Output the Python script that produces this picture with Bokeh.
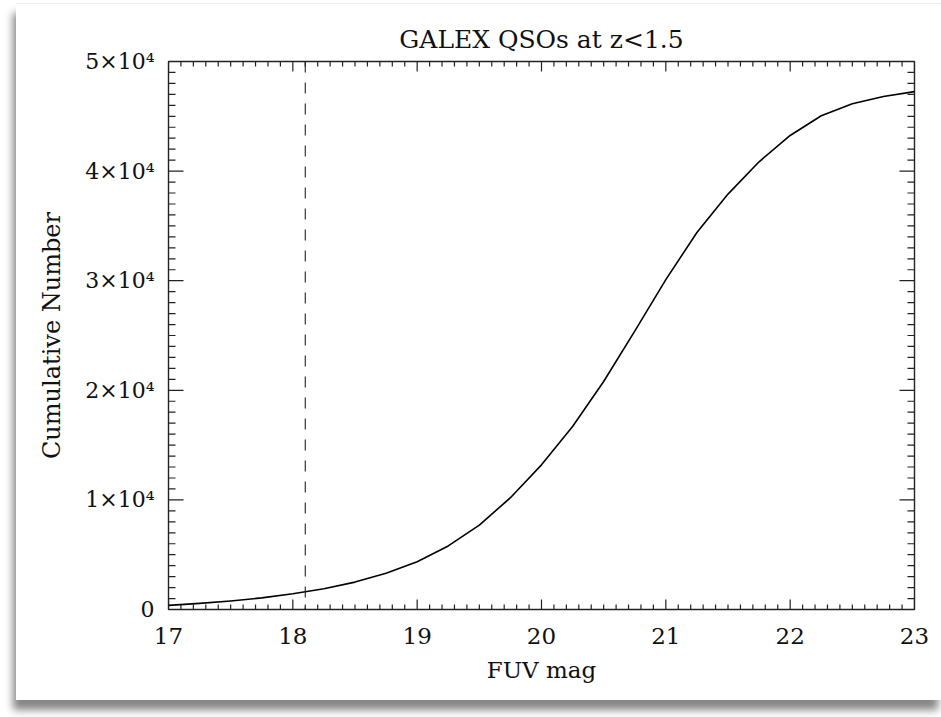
import numpy as np
from bokeh.plotting import figure
from bokeh.models import (LinearAxis, FixedTicker, Range1d, Span, ColumnDataSource)
from bokeh.embed import file_html
from bokeh.resources import INLINE

# Cumulative number of GALEX QSOs (z < 1.5) brighter than a given FUV magnitude
fuv_mag = [17.0, 17.25, 17.5, 17.75, 18.0, 18.25, 18.5, 18.75, 19.0, 19.25,
           19.5, 19.75, 20.0, 20.25, 20.5, 20.75, 21.0, 21.25, 21.5, 21.75,
           22.0, 22.25, 22.5, 22.75, 23.0]
cum_number = [380, 560, 780, 1060, 1430, 1900, 2500, 3300, 4350, 5800,
              7700, 10200, 13200, 16700, 20800, 25400, 30100, 34400, 37900, 40850,
              43250, 45050, 46150, 46800, 47250]

# FUV magnitude limit marked by the dashed line
mag_limit = 18.1

x_major = [17, 18, 19, 20, 21, 22, 23]
y_major = [0, 10000, 20000, 30000, 40000, 50000]
y_tick_labels = ["0", "1×10⁴", "2×10⁴", "3×10⁴", "4×10⁴", "5×10⁴"]

x_minor = [round(v, 1) for v in np.arange(17.0, 23.0001, 0.1)]
x_minor = [v for v in x_minor if v not in x_major]
y_minor = [v for v in range(0, 50001, 1000) if v not in y_major]

X0, X1 = 17, 23
Y0, Y1 = 0, 50000

FONT = "DejaVu Serif"
INK = "#111111"
AXIS_INK = "#222222"

p = figure(width=925, height=697, output_backend="svg", toolbar_location=None,
           x_range=Range1d(X0, X1), y_range=Range1d(Y0, Y1),
           x_axis_type=None, y_axis_type=None,
           min_border_left=152, min_border_right=27,
           min_border_top=57, min_border_bottom=92,
           background_fill_color="white", border_fill_color="white")
p.margin = (3, 0, 0, 16)
# photo-style card with a soft drop shadow
p.styles = {"box-shadow": "-3px 10px 8px rgba(0, 0, 0, 0.48)",
            "border-top": "1px solid #eeeeee"}
p.outline_line_color = AXIS_INK
p.outline_line_width = 1.4
p.xgrid.visible = False
p.ygrid.visible = False

p.title.text = "GALEX QSOs at z<1.5"
p.title.align = "center"
p.title.text_font = FONT
p.title.text_font_size = "25px"
p.title.text_font_style = "normal"
p.title.text_color = INK
p.title.standoff = 15


def label_style(ax, size):
    ax.axis_line_color = None
    ax.major_tick_in = 0
    ax.major_tick_out = 0
    ax.minor_tick_in = 0
    ax.minor_tick_out = 0
    ax.major_label_text_font = FONT
    ax.major_label_text_font_size = size
    ax.major_label_text_color = INK
    ax.axis_label_text_font = FONT
    ax.axis_label_text_font_style = "normal"
    ax.axis_label_text_color = INK


# labelled axes: bottom and left
xb = LinearAxis(ticker=FixedTicker(ticks=x_major), axis_label="FUV mag")
label_style(xb, "23px")
xb.major_label_standoff = 18
xb.axis_label_text_font_size = "23px"
xb.axis_label_standoff = 10
p.add_layout(xb, "below")

yl = LinearAxis(ticker=FixedTicker(ticks=y_major), axis_label="Cumulative Number")
label_style(yl, "22px")
yl.major_label_overrides = {v: s for v, s in zip(y_major, y_tick_labels)}
yl.major_label_standoff = 14
yl.axis_label_text_font_size = "24px"
yl.axis_label_standoff = 16
p.add_layout(yl, "left")


# inward tick marks on all four sides: dashes centred on the frame edge,
# whose outer half is clipped away by the plot frame
def ticks_x(pos, length):
    for edge in (Y0, Y1):
        p.scatter(x=pos, y=[edge] * len(pos), marker="dash", size=2 * length,
                  angle=np.pi / 2, line_color=AXIS_INK, line_width=1.2)


def ticks_y(pos, length):
    for edge in (X0, X1):
        p.scatter(x=[edge] * len(pos), y=pos, marker="dash", size=2 * length,
                  line_color=AXIS_INK, line_width=1.2)


ticks_x(x_minor, 5)
ticks_x(x_major, 10)
ticks_y(y_minor, 7)
ticks_y(y_major, 15)

src = ColumnDataSource(data=dict(mag=fuv_mag, n=cum_number))
p.line("mag", "n", source=src, line_color="black", line_width=1.6,
       line_join="round")

p.add_layout(Span(location=mag_limit, dimension="height", line_color=AXIS_INK,
                  line_width=1.1, line_dash="11 10"))

open("out.html", "w").write(file_html(p, INLINE))
